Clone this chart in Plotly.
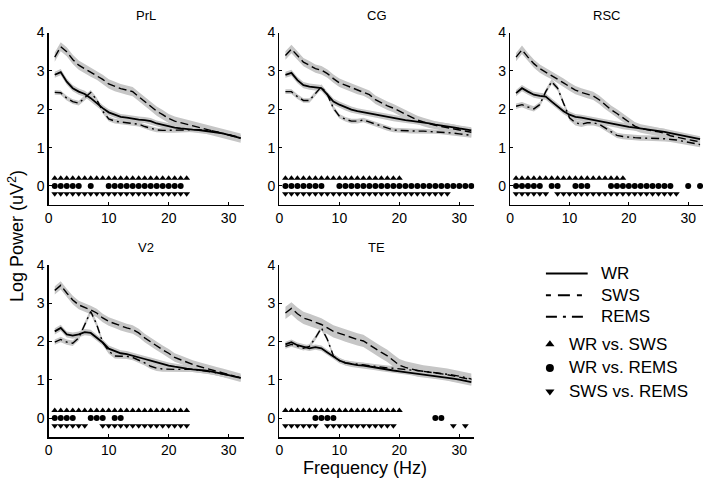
import plotly.graph_objects as go

# ---------------- data ----------------
FREQ = [1, 2, 3, 4, 5, 6, 7, 8, 9, 10, 11, 12, 13, 14, 15, 16,
        17, 18, 19, 20, 21, 22, 23, 24, 25, 26, 27, 28, 29, 30, 31, 32]

PRL_WR = [2.90, 2.97, 2.72, 2.55, 2.46, 2.40, 2.29, 2.15, 2.03, 1.92, 1.86, 1.80, 1.78, 1.75, 1.73, 1.72,
          1.69, 1.63, 1.59, 1.55, 1.52, 1.50, 1.48, 1.47, 1.46, 1.44, 1.42, 1.40, 1.37, 1.33, 1.29, 1.25]
PRL_SWS = [3.36, 3.63, 3.50, 3.30, 3.15, 3.06, 2.97, 2.89, 2.78, 2.66, 2.59, 2.54, 2.50, 2.46, 2.33, 2.20,
           2.08, 1.95, 1.86, 1.76, 1.69, 1.65, 1.60, 1.56, 1.52, 1.48, 1.45, 1.41, 1.37, 1.33, 1.29, 1.25]
PRL_REMS = [2.44, 2.43, 2.29, 2.20, 2.16, 2.29, 2.44, 2.25, 1.95, 1.75, 1.69, 1.67, 1.65, 1.63, 1.61, 1.55,
            1.50, 1.46, 1.45, 1.45, 1.45, 1.45, 1.46, 1.47, 1.47, 1.46, 1.45, 1.42, 1.38, 1.34, 1.30, 1.26]

CG_WR = [2.90, 2.95, 2.76, 2.63, 2.59, 2.57, 2.55, 2.38, 2.20, 2.12, 2.05, 1.99, 1.95, 1.92, 1.89, 1.86,
         1.83, 1.80, 1.77, 1.75, 1.72, 1.70, 1.68, 1.66, 1.63, 1.60, 1.58, 1.55, 1.53, 1.50, 1.47, 1.45]
CG_SWS = [3.40, 3.57, 3.40, 3.23, 3.15, 3.06, 3.02, 2.93, 2.80, 2.69, 2.63, 2.57, 2.50, 2.46, 2.38, 2.25,
          2.16, 2.09, 2.03, 1.95, 1.86, 1.78, 1.72, 1.67, 1.62, 1.58, 1.55, 1.52, 1.49, 1.46, 1.43, 1.40]
CG_REMS = [2.46, 2.46, 2.33, 2.23, 2.23, 2.40, 2.59, 2.38, 2.03, 1.82, 1.74, 1.69, 1.69, 1.72, 1.67, 1.61,
           1.55, 1.50, 1.46, 1.45, 1.44, 1.43, 1.43, 1.43, 1.42, 1.42, 1.41, 1.40, 1.38, 1.36, 1.34, 1.32]

RSC_WR = [2.42, 2.55, 2.46, 2.38, 2.35, 2.33, 2.20, 2.08, 1.95, 1.86, 1.80, 1.78, 1.75, 1.72, 1.68, 1.65,
          1.63, 1.60, 1.56, 1.54, 1.52, 1.50, 1.48, 1.46, 1.44, 1.41, 1.38, 1.35, 1.31, 1.28, 1.25, 1.22]
RSC_SWS = [3.36, 3.55, 3.36, 3.19, 3.06, 2.97, 2.89, 2.80, 2.69, 2.59, 2.50, 2.44, 2.40, 2.35, 2.25, 2.12,
           1.99, 1.89, 1.78, 1.67, 1.56, 1.50, 1.46, 1.44, 1.41, 1.38, 1.31, 1.27, 1.24, 1.21, 1.18, 1.15]
RSC_REMS = [2.08, 2.12, 2.06, 2.01, 2.12, 2.46, 2.72, 2.55, 2.16, 1.78, 1.65, 1.61, 1.65, 1.65, 1.61, 1.52,
            1.41, 1.32, 1.29, 1.27, 1.26, 1.25, 1.25, 1.25, 1.24, 1.23, 1.22, 1.20, 1.17, 1.14, 1.11, 1.08]

V2_WR = [2.26, 2.35, 2.18, 2.15, 2.18, 2.24, 2.22, 2.09, 1.97, 1.81, 1.75, 1.69, 1.67, 1.62, 1.58, 1.54,
         1.50, 1.45, 1.41, 1.37, 1.34, 1.31, 1.29, 1.27, 1.26, 1.24, 1.22, 1.19, 1.16, 1.12, 1.08, 1.05]
V2_SWS = [3.33, 3.46, 3.26, 3.08, 2.95, 2.89, 2.82, 2.74, 2.61, 2.52, 2.46, 2.39, 2.35, 2.31, 2.22, 2.09,
          1.98, 1.88, 1.78, 1.69, 1.58, 1.52, 1.45, 1.40, 1.35, 1.30, 1.26, 1.22, 1.18, 1.13, 1.09, 1.05]
V2_REMS = [1.98, 2.05, 1.98, 1.95, 2.09, 2.44, 2.78, 2.44, 1.97, 1.75, 1.62, 1.61, 1.61, 1.58, 1.52, 1.44,
           1.35, 1.30, 1.28, 1.27, 1.27, 1.27, 1.27, 1.27, 1.25, 1.23, 1.21, 1.18, 1.15, 1.12, 1.09, 1.05]

TE_WR = [1.92, 1.98, 1.90, 1.85, 1.82, 1.85, 1.82, 1.71, 1.61, 1.50, 1.44, 1.40, 1.38, 1.37, 1.34, 1.32,
         1.29, 1.27, 1.24, 1.22, 1.20, 1.18, 1.16, 1.14, 1.12, 1.10, 1.08, 1.06, 1.03, 1.00, 0.97, 0.94]
TE_SWS = [2.74, 2.86, 2.72, 2.61, 2.56, 2.50, 2.44, 2.35, 2.26, 2.21, 2.15, 2.09, 2.05, 2.01, 1.92, 1.81,
          1.71, 1.62, 1.50, 1.38, 1.32, 1.28, 1.24, 1.22, 1.20, 1.18, 1.16, 1.13, 1.10, 1.07, 1.04, 1.00]
TE_REMS = [1.87, 1.92, 1.87, 1.82, 1.87, 2.09, 2.35, 2.05, 1.62, 1.50, 1.44, 1.42, 1.41, 1.39, 1.37, 1.35,
           1.33, 1.31, 1.30, 1.28, 1.27, 1.25, 1.24, 1.22, 1.21, 1.19, 1.17, 1.15, 1.12, 1.09, 1.06, 1.02]

# standard error half-widths (WR, SWS, REMS) per region
PRL_SEM = [0.08, 0.12, 0.06]
CG_SEM = [0.08, 0.11, 0.06]
RSC_SEM = [0.08, 0.11, 0.07]
V2_SEM = [0.08, 0.11, 0.07]
TE_SEM = [0.07, 0.16, 0.06]

# significant frequencies
PRL_WR_SWS = [1, 2, 3, 4, 5, 6, 7, 8, 9, 10, 11, 12, 13, 14, 15, 16, 17, 18, 19, 20, 21, 22, 23]
PRL_WR_REMS = [1, 2, 3, 4, 5, 7, 10, 11, 12, 13, 14, 15, 16, 17, 18, 19, 20, 21, 22]
PRL_SWS_REMS = [1, 2, 3, 4, 5, 6, 7, 8, 9, 10, 11, 12, 13, 14, 15, 16, 17, 18, 19, 20, 21, 22, 23]

CG_WR_SWS = [1, 2, 3, 4, 5, 6, 7, 8, 9, 10, 11, 12, 13, 14, 15, 16, 17, 18, 19, 20]
CG_WR_REMS = [1, 2, 3, 4, 5, 6, 7, 10, 11, 12, 13, 14, 15, 16, 17, 18, 19, 20, 21, 22, 23, 24, 25,
              26, 27, 28, 29, 30, 31, 32]
CG_SWS_REMS = [1, 2, 3, 4, 5, 6, 7, 8, 9, 10, 11, 12, 13, 14, 15, 16, 17, 18, 19, 20, 21, 22, 23,
               24, 25, 26, 27, 28]

RSC_WR_SWS = [1, 2, 3, 4, 5, 6, 7, 8, 9, 10, 11, 12, 13, 14, 15, 16, 17, 18, 19]
RSC_WR_REMS = [1, 2, 3, 4, 5, 7, 8, 11, 12, 13, 17, 18, 19, 20, 21, 22, 23, 24, 25, 26, 27, 30, 32]
RSC_SWS_REMS = [1, 2, 3, 4, 5, 6, 8, 9, 10, 11, 12, 13, 14, 15, 16, 17, 18, 19, 20, 21, 22, 23, 24,
                25, 26, 27, 28]

V2_WR_SWS = [1, 2, 3, 4, 5, 6, 7, 8, 9, 10, 11, 12, 13, 14, 15, 16, 17, 18, 19, 20, 21, 22, 23]
V2_WR_REMS = [1, 2, 3, 4, 7, 8, 9, 11, 12]
V2_SWS_REMS = [1, 2, 3, 4, 5, 6, 9, 10, 11, 12, 13, 14, 15, 16, 17, 18, 19, 20, 21, 22, 23]

TE_WR_SWS = [1, 2, 3, 4, 5, 6, 7, 8, 9, 10, 11, 12, 13, 14, 15, 16, 17, 18, 19, 20]
TE_WR_REMS = [6, 7, 8, 9, 26, 27]
TE_SWS_REMS = [1, 2, 3, 4, 5, 6, 8, 9, 10, 11, 12, 13, 14, 15, 16, 17, 18, 19, 29, 31]

REGIONS = ["PrL", "CG", "RSC", "V2", "TE"]
STATES = ["WR", "SWS", "REMS"]
COMPARISONS = ["WR vs. SWS", "WR vs. REMS", "SWS vs. REMS"]
SIG_LEVELS = [0.2, 0.0, -0.2]

panels = [
    (PRL_WR, PRL_SWS, PRL_REMS, PRL_SEM, PRL_WR_SWS, PRL_WR_REMS, PRL_SWS_REMS),
    (CG_WR, CG_SWS, CG_REMS, CG_SEM, CG_WR_SWS, CG_WR_REMS, CG_SWS_REMS),
    (RSC_WR, RSC_SWS, RSC_REMS, RSC_SEM, RSC_WR_SWS, RSC_WR_REMS, RSC_SWS_REMS),
    (V2_WR, V2_SWS, V2_REMS, V2_SEM, V2_WR_SWS, V2_WR_REMS, V2_SWS_REMS),
    (TE_WR, TE_SWS, TE_REMS, TE_SEM, TE_WR_SWS, TE_WR_REMS, TE_SWS_REMS),
]

# ---------------- styles / layout ----------------
W, H = 708, 481
FONT = "Liberation Sans, Arial, sans-serif"
DASHES = ["solid", "8px,4px", "8px,4px,2px,4px"]
WIDTHS = [1.8, 1.4, 1.4]
SYMBOLS = ["triangle-up", "circle", "triangle-down"]
SYM_SIZES = [6, 6, 6]
BAND = "#c6c6c6"

COLS_PX = [(45, 241), (277, 473), (509, 703)]
ROWS_PX = [(25, 200.5), (261, 436.5)]
GRID = [(0, 0), (0, 1), (0, 2), (1, 0), (1, 1)]

fig = go.Figure()
layout = dict(width=W, height=H, autosize=False, margin=dict(l=0, r=0, t=0, b=0),
              plot_bgcolor="white", paper_bgcolor="white", showlegend=False,
              font=dict(family=FONT, color="black"))
annotations = []

for i, (name, pdata, (r, c)) in enumerate(zip(REGIONS, panels, GRID)):
    k = i + 1
    xs = "x" if k == 1 else f"x{k}"
    ys = "y" if k == 1 else f"y{k}"
    curves = pdata[0:3]
    sem = pdata[3]
    sigs = pdata[4:7]
    # bands
    for curve, s in zip(curves, sem):
        upper = [v + s for v in curve]
        lower = [v - s for v in curve]
        fig.add_trace(go.Scatter(x=FREQ + FREQ[::-1], y=upper + lower[::-1], fill="toself",
                                 fillcolor=BAND, line=dict(width=0), mode="lines",
                                 hoverinfo="skip", xaxis=xs, yaxis=ys))
    # lines
    for j, curve in enumerate(curves):
        fig.add_trace(go.Scatter(x=FREQ, y=curve, mode="lines",
                                 line=dict(color="black", width=WIDTHS[j], dash=DASHES[j]),
                                 name=STATES[j], xaxis=xs, yaxis=ys))
    # significance markers
    for j, sig in enumerate(sigs):
        fig.add_trace(go.Scatter(x=sig, y=[SIG_LEVELS[j]] * len(sig), mode="markers",
                                 marker=dict(symbol=SYMBOLS[j], size=SYM_SIZES[j], color="black",
                                             line=dict(width=0)),
                                 name=COMPARISONS[j], xaxis=xs, yaxis=ys))
    x0, x1 = COLS_PX[c]
    y0, y1 = ROWS_PX[r]
    ax = dict(showline=True, linecolor="black", linewidth=1.3, mirror=False,
              ticks="inside", ticklen=3, tickcolor="black", showgrid=False, zeroline=False,
              tickfont=dict(size=14, family=FONT, color="black"))
    layout["xaxis" if k == 1 else f"xaxis{k}"] = dict(
        ax, domain=[x0 / W, x1 / W], range=[0, 32.5], tickvals=[0, 10, 20, 30],
        anchor=ys)
    layout["yaxis" if k == 1 else f"yaxis{k}"] = dict(
        ax, domain=[1 - y1 / H, 1 - y0 / H], range=[-0.5, 4], tickvals=[0, 1, 2, 3, 4],
        anchor=xs)
    annotations.append(dict(text=name, x=(x0 + x1) / 2 / W, y=1 - (y0 - 17) / H,
                            xref="paper", yref="paper", showarrow=False,
                            xanchor="center", yanchor="middle",
                            font=dict(size=13, family=FONT, color="black")))

# axis titles
annotations.append(dict(text="Log Power (uV<sup>2</sup>)", x=12 / W, y=1 - 232 / H,
                        xref="paper", yref="paper", showarrow=False, textangle=-90,
                        xanchor="center", yanchor="middle",
                        font=dict(size=18, family=FONT, color="black")))
annotations.append(dict(text="Frequency (Hz)", x=363 / W, y=1 - 468 / H,
                        xref="paper", yref="paper", showarrow=False,
                        xanchor="center", yanchor="middle",
                        font=dict(size=18, family=FONT, color="black")))

# ---------------- custom legend ----------------
LX0, LX1, LY0, LY1 = 540, 708, 255, 410
layout["xaxis6"] = dict(domain=[LX0 / W, LX1 / W], range=[LX0, LX1], visible=False,
                        fixedrange=True, anchor="y6")
layout["yaxis6"] = dict(domain=[1 - LY1 / H, 1 - LY0 / H], range=[LY1, LY0], visible=False,
                        fixedrange=True, anchor="x6")
LINE_ROWS = [270, 292, 314]
MARK_ROWS = [342, 366, 390]
for j, st in enumerate(STATES):
    yy = LINE_ROWS[j]
    fig.add_trace(go.Scatter(x=[545, 587], y=[yy, yy], mode="lines",
                             line=dict(color="black", width=2.2 if j == 0 else 2.0,
                                       dash=["solid", "5px,7px,12px,7px", "11px,6px,3px,6px"][j]),
                             xaxis="x6", yaxis="y6", hoverinfo="skip"))
    annotations.append(dict(text=st, x=598, y=yy, xref="x6", yref="y6", showarrow=False,
                            xanchor="left", yanchor="middle",
                            font=dict(size=17, family=FONT, color="black")))
for j, cmp_ in enumerate(COMPARISONS):
    yy = MARK_ROWS[j]
    fig.add_trace(go.Scatter(x=[549], y=[yy], mode="markers",
                             marker=dict(symbol=SYMBOLS[j], size=8, color="black"),
                             xaxis="x6", yaxis="y6", hoverinfo="skip"))
    annotations.append(dict(text=cmp_, x=566, y=yy, xref="x6", yref="y6", showarrow=False,
                            xanchor="left", yanchor="middle",
                            font=dict(size=17, family=FONT, color="black")))

layout["annotations"] = annotations
fig.update_layout(**layout)
fig.write_html(
    "out.html",
    config={"displayModeBar": False, "responsive": False, "staticPlot": True},
    post_script=(
        "document.documentElement.style.margin='0';"
        "document.body.style.margin='0';document.body.style.padding='0';"
        "document.body.style.overflow='hidden';"
    ),
)
